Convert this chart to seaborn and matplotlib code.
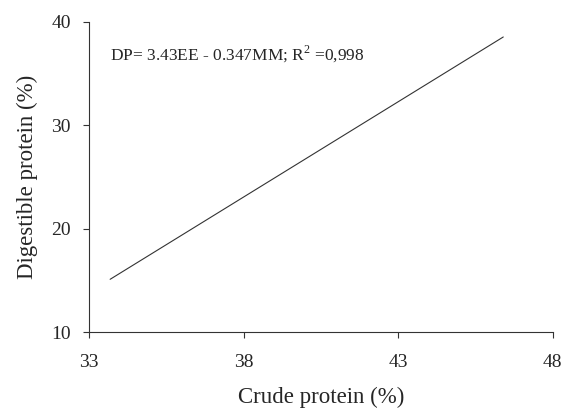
import numpy as np
import pandas as pd
import matplotlib
matplotlib.use("Agg")
import matplotlib.pyplot as plt
import seaborn as sns

# fitted line end points
crude_protein = [33.68, 46.4]
digestible_protein = [15.1, 38.55]

x_ticks = [33, 38, 43, 48]
y_ticks = [10, 20, 30, 40]
equation = "DP= 3.43EE - 0.347MM; R$^2$ =0,998"

sns.set_theme(style="ticks")
plt.rcParams["font.family"] = ["Liberation Serif", "DejaVu Serif"]
plt.rcParams["mathtext.fontset"] = "custom"
plt.rcParams["mathtext.rm"] = "Liberation Serif"

df = pd.DataFrame({"cp": crude_protein, "dp": digestible_protein})

fig = plt.figure(figsize=(5.64, 4.15), dpi=100)
ax = fig.add_axes([0.158, 0.2, 0.822, 0.747])
sns.lineplot(data=df, x="cp", y="dp", ax=ax, color="#333333", linewidth=0.8)

ax.set_xlim(33, 48)
ax.set_ylim(10, 40)
ax.set_xticks(x_ticks)
ax.set_yticks(y_ticks)
ax.tick_params(labelsize=14, length=4.5, width=0.8, color="#333333")
ax.tick_params(axis="x", pad=11)
ax.tick_params(axis="y", pad=8.5)
for s in ["top", "right"]:
    ax.spines[s].set_visible(False)
for s in ["left", "bottom"]:
    ax.spines[s].set_linewidth(0.8)
    ax.spines[s].set_color("#333333")

ax.set_xlabel("Crude protein (%)", fontsize=16.5, labelpad=12)
ax.set_ylabel("Digestible protein (%)", fontsize=16.5, labelpad=10)
ax.text(0.045, 0.894, equation, transform=ax.transAxes, fontsize=12.5, va="center", ha="left")

fig.savefig("out.png", dpi=100)
